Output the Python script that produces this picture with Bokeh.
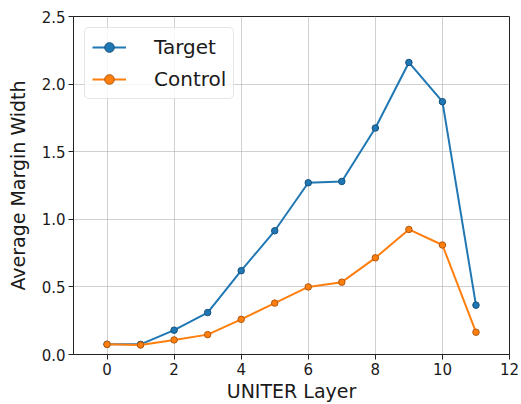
from bokeh.plotting import figure
from bokeh.models import Range1d, FixedTicker, PrintfTickFormatter
from bokeh.embed import file_html
from bokeh.resources import INLINE

layers = [0, 1, 2, 3, 4, 5, 6, 7, 8, 9, 10, 11]
target = [0.075, 0.075, 0.18, 0.31, 0.62, 0.915, 1.27, 1.28, 1.675, 2.16, 1.87, 0.365]
control = [0.075, 0.07, 0.108, 0.147, 0.26, 0.38, 0.50, 0.535, 0.715, 0.925, 0.81, 0.165]
x_ticks = [0, 2, 4, 6, 8, 10, 12]
y_ticks = [0.0, 0.5, 1.0, 1.5, 2.0, 2.5]

FONT = "DejaVu Sans"
TXT = "#1a1a1a"

p = figure(width=521, height=404, output_backend="svg", toolbar_location=None,
           x_range=Range1d(-1, 12), y_range=Range1d(0, 2.5),
           min_border_left=73, min_border_right=12, min_border_top=16, min_border_bottom=50)

p.line(layers, target, line_color="#1f77b4", line_width=2, legend_label="Target")
p.scatter(layers, target, size=6.5, fill_color="#1f77b4", line_color="#15527d", line_width=1,
          legend_label="Target")
p.line(layers, control, line_color="#ff7f0e", line_width=2, legend_label="Control")
p.scatter(layers, control, size=6.5, fill_color="#ff7f0e", line_color="#b0590f", line_width=1,
          legend_label="Control")

p.xaxis.ticker = FixedTicker(ticks=x_ticks)
p.yaxis.ticker = FixedTicker(ticks=y_ticks)
p.yaxis.formatter = PrintfTickFormatter(format="%.1f")
p.xaxis.axis_label = "UNITER Layer"
p.yaxis.axis_label = "Average Margin Width"

for ax in (p.xaxis[0], p.yaxis[0]):
    ax.major_label_text_font = FONT
    ax.major_label_text_font_size = "15px"
    ax.major_label_text_color = TXT
    ax.axis_label_text_font = FONT
    ax.axis_label_text_font_size = "19px"
    ax.axis_label_text_font_style = "normal"
    ax.axis_label_text_color = TXT
    ax.major_tick_out = 5
    ax.major_tick_in = 0
    ax.minor_tick_line_color = None
    ax.axis_line_color = "#222222"
    ax.major_tick_line_color = "#222222"
    ax.major_label_standoff = 3

p.xaxis.axis_label_standoff = 2
p.yaxis.axis_label_standoff = 10

p.outline_line_color = "#222222"
p.outline_line_width = 1
p.grid.grid_line_color = "#b0b0b0"
p.grid.grid_line_alpha = 0.6
p.grid.grid_line_width = 1

lg = p.legend[0]
lg.location = "top_left"
lg.margin = 11
lg.padding = 7
lg.spacing = 8
lg.glyph_width = 34
lg.glyph_height = 24
lg.label_standoff = 28
lg.label_text_font = FONT
lg.label_text_font_size = "20px"
lg.label_text_color = TXT
lg.border_line_color = "#cccccc"
lg.border_line_width = 1
lg.background_fill_alpha = 0.8
try:
    lg.border_radius = 5
except Exception:
    pass

open("out.html", "w").write(file_html(p, INLINE))
